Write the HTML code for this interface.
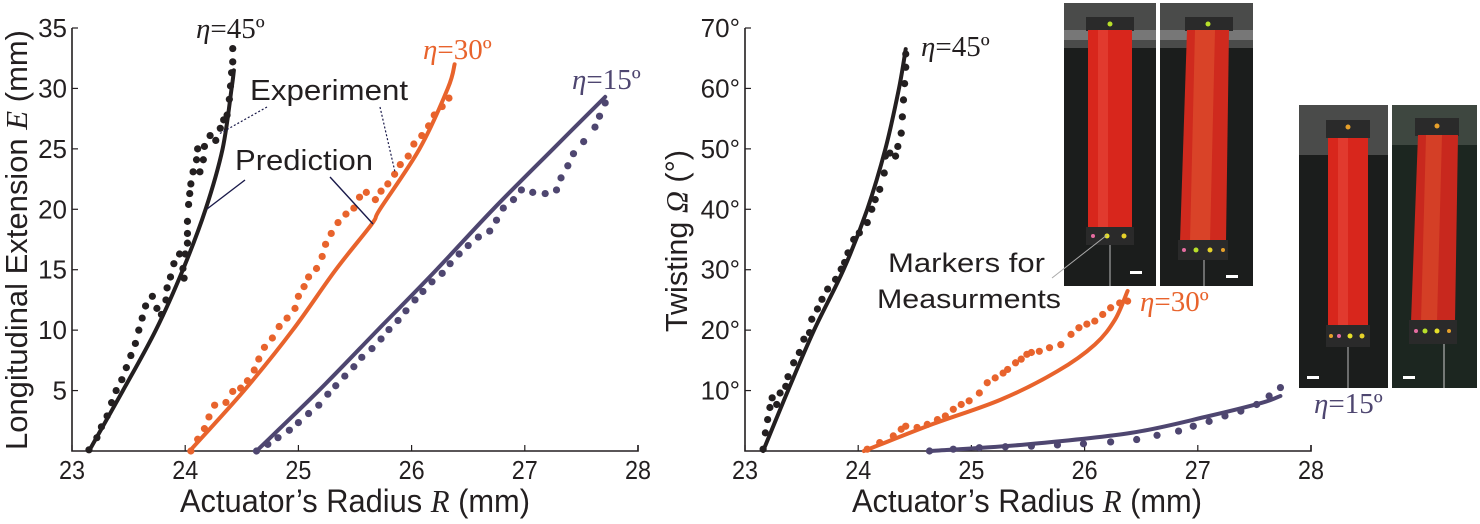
<!DOCTYPE html>
<html><head><meta charset="utf-8"><style>
html,body{margin:0;padding:0;background:#fff;}
svg{display:block;font-family:"Liberation Sans",sans-serif;}
.ser{font-family:"Liberation Serif",serif;}
</style></head><body>
<svg id="fig" width="1480" height="524" viewBox="0 0 1480 524" xmlns="http://www.w3.org/2000/svg">
<g id="photos">
  <g>
    <rect x="1064" y="3" width="92" height="283" fill="#1b1d1c"/>
    <rect x="1064" y="3" width="92" height="45" fill="#4a4b4a"/>
    <rect x="1064" y="30" width="92" height="10" fill="#777"/>
    <rect x="1086" y="17" width="48" height="14" fill="#2a2a2a"/>
    <circle cx="1110" cy="24" r="2.5" fill="#b8e02a"/>
    <rect x="1088" y="30" width="44" height="197" fill="#d8261c"/>
    <rect x="1098" y="30" width="10" height="197" fill="#e8473a" opacity="0.6"/>
    <rect x="1086" y="227" width="48" height="18" fill="#2a2a2a"/>
    <circle cx="1093" cy="236" r="2" fill="#e56ca0"/><circle cx="1107" cy="236" r="2.5" fill="#e6e02a"/><circle cx="1124" cy="236" r="2.5" fill="#e6d22a"/>
    <line x1="1110" y1="245" x2="1110" y2="286" stroke="#bbb" stroke-width="1"/>
    <rect x="1130" y="271" width="12" height="3" fill="#fff"/>
  </g>
  <g>
    <rect x="1160" y="3" width="93" height="283" fill="#1b1d1c"/>
    <rect x="1160" y="3" width="93" height="45" fill="#4a4b4a"/>
    <rect x="1160" y="30" width="93" height="10" fill="#777"/>
    <rect x="1185" y="17" width="48" height="14" fill="#2a2a2a"/>
    <circle cx="1208" cy="24" r="2.5" fill="#b8e02a"/>
    <polygon points="1187,30 1229,30 1226,242 1180,242" fill="#cf2a1e"/>
    <polygon points="1195,30 1215,30 1210,242 1190,242" fill="#e0552e" opacity="0.6"/>
    <rect x="1178" y="240" width="50" height="20" fill="#2a2a2a"/>
    <circle cx="1184" cy="250" r="2" fill="#e56ca0"/><circle cx="1196" cy="250" r="2.5" fill="#b8e02a"/><circle cx="1210" cy="250" r="2.5" fill="#e6d22a"/><circle cx="1223" cy="250" r="2" fill="#e6a02a"/>
    <line x1="1204" y1="260" x2="1204" y2="286" stroke="#bbb" stroke-width="1"/>
    <rect x="1226" y="275" width="12" height="3" fill="#fff"/>
  </g>
  <g>
    <rect x="1299" y="105" width="89" height="283" fill="#1b1d1c"/>
    <rect x="1299" y="105" width="89" height="50" fill="#4a4b4a"/>
    <rect x="1326" y="120" width="44" height="18" fill="#2a2a2a"/>
    <circle cx="1348" cy="127" r="2.5" fill="#e6a02a"/>
    <rect x="1328" y="138" width="40" height="187" fill="#d8261c"/>
    <rect x="1338" y="138" width="10" height="187" fill="#e8473a" opacity="0.6"/>
    <rect x="1326" y="325" width="44" height="22" fill="#2a2a2a"/>
    <circle cx="1331" cy="336" r="2" fill="#e6a02a"/><circle cx="1339" cy="336" r="2" fill="#e56ca0"/><circle cx="1350" cy="336" r="2.5" fill="#e6e02a"/><circle cx="1362" cy="336" r="2.5" fill="#e6d22a"/>
    <line x1="1348" y1="347" x2="1348" y2="388" stroke="#bbb" stroke-width="1"/>
    <rect x="1307" y="376" width="12" height="3" fill="#fff"/>
  </g>
  <g>
    <rect x="1392" y="105" width="85" height="283" fill="#1c2620"/>
    <rect x="1392" y="105" width="85" height="40" fill="#3e4740"/>
    <rect x="1415" y="118" width="44" height="18" fill="#2a2a2a"/>
    <circle cx="1437" cy="126" r="2.5" fill="#e6a02a"/>
    <polygon points="1418,135 1458,135 1455,322 1411,322" fill="#c8281e"/>
    <polygon points="1426,135 1442,135 1437,322 1421,322" fill="#e0552e" opacity="0.5"/>
    <rect x="1409" y="320" width="48" height="24" fill="#2a2a2a"/>
    <circle cx="1416" cy="331" r="2" fill="#e56ca0"/><circle cx="1425" cy="331" r="2.5" fill="#b8e02a"/><circle cx="1437" cy="331" r="2.5" fill="#e6e02a"/><circle cx="1449" cy="331" r="2" fill="#e6a02a"/>
    <line x1="1444" y1="344" x2="1444" y2="388" stroke="#ccc" stroke-width="1"/>
    <rect x="1403" y="376" width="12" height="3" fill="#fff"/>
  </g>
</g>
<g id="left"></g>
<g id="right"></g>

<g>
  <text class="ser" x="196" y="38" font-size="29" fill="#231f20"><tspan font-style="italic">η</tspan>=45º</text>
  <text class="ser" x="423" y="59" font-size="29" fill="#e8632c"><tspan font-style="italic">η</tspan>=30º</text>
  <text class="ser" x="572" y="89" font-size="29" fill="#4e4670"><tspan font-style="italic">η</tspan>=15º</text>
  <text x="250" y="100" font-size="29" fill="#231f20" textLength="158" lengthAdjust="spacingAndGlyphs">Experiment</text>
  <text x="235" y="170" font-size="29" fill="#231f20" textLength="138" lengthAdjust="spacingAndGlyphs">Prediction</text>
  <line x1="267" y1="107" x2="219" y2="134" stroke="#1a1a4a" stroke-width="1.2" stroke-dasharray="2,2"/>
  <line x1="380" y1="107" x2="395" y2="172" stroke="#1a1a4a" stroke-width="1.2" stroke-dasharray="2,2"/>
  <line x1="245" y1="180" x2="207" y2="209" stroke="#1a1a4a" stroke-width="1.4"/>
  <line x1="330" y1="177" x2="373" y2="224" stroke="#1a1a4a" stroke-width="1.4"/>
</g>
<g>
  <text class="ser" x="921" y="56" font-size="29" fill="#231f20"><tspan font-style="italic">η</tspan>=45º</text>
  <text class="ser" x="1140" y="311" font-size="29" fill="#e8632c"><tspan font-style="italic">η</tspan>=30º</text>
  <text class="ser" x="1314" y="413" font-size="29" fill="#4e4670"><tspan font-style="italic">η</tspan>=15º</text>
  <text x="888" y="272" font-size="27" fill="#231f20" textLength="157" lengthAdjust="spacingAndGlyphs">Markers for</text>
  <text x="877" y="308" font-size="27" fill="#231f20" textLength="184" lengthAdjust="spacingAndGlyphs">Measurments</text>
  <line x1="1052" y1="278" x2="1107" y2="235" stroke="#aaa" stroke-width="1"/>
</g>
</svg>
<script>
// ---------- Left chart data (R mm, E mm) ----------
const xTicksL = [23,24,25,26,27,28];
const yTicksL = [5,10,15,20,25,30,35];
const pred45E = [0,5,10,15,20,25,30,31.5];
const pred45R = [23.15,23.45,23.74,23.98,24.18,24.33,24.41,24.43];
const pred30E = [0,5,10,15,18.8,20,25,30,32];
const pred30R = [24.04,24.52,24.95,25.33,25.65,25.72,26.07,26.32,26.38];
const pred15E = [0,5,10,15,20,25,29.3];
const pred15R = [24.63,25.18,25.70,26.22,26.72,27.25,27.71];
const exp45R = [23.15,23.22,23.26,23.31,23.35,23.39,23.44,23.48,23.52,23.56,23.59,23.62,23.65,23.71,23.75,23.79,23.83,23.84,23.87,23.90,23.95,23.98,23.99,24.00,24.02,24.02,24.02,24.03,24.04,24.05,24.07,24.10,24.11,24.13,24.16,24.17,24.22,24.27,24.31,24.34,24.37,24.39,24.40,24.41,24.42,24.42];
const exp45E = [0.1,1.1,2.0,2.9,4.0,5.0,5.9,6.9,7.9,8.9,10.0,11.0,12.0,12.8,11.8,11.3,12.5,13.5,14.4,15.5,16.3,15.1,14.3,16.3,17.2,18.0,19.0,20.4,21.3,22.1,23.1,24.1,25.0,23.1,24.1,25.2,26.1,25.7,26.7,27.4,27.8,29.1,30.2,31.3,32.2,33.3];
const exp30R = [24.05,24.11,24.17,24.21,24.26,24.36,24.42,24.49,24.55,24.61,24.65,24.70,24.77,24.83,24.90,24.97,25.00,25.05,25.09,25.16,25.21,25.24,25.29,25.35,25.42,25.49,25.54,25.60,25.68,25.73,25.79,25.85,25.90,25.97,26.02,26.09,26.15,26.20,26.27,26.33];
const exp30E = [0,0.97,1.85,2.82,3.79,4.02,4.93,5.20,5.81,6.70,7.61,8.58,9.35,10.3,11.0,11.8,12.8,13.6,14.4,15.1,16.1,17.1,18.0,18.9,19.6,20.1,21.0,21.4,20.8,21.5,22.1,22.9,23.7,24.4,25.4,26.1,26.9,27.8,28.5,29.2];
const exp15R = [24.63,24.73,24.82,24.92,25.00,25.09,25.18,25.26,25.33,25.41,25.49,25.56,25.65,25.73,25.80,25.88,25.95,26.03,26.10,26.18,26.27,26.34,26.42,26.50,26.59,26.69,26.75,26.81,26.90,26.97,27.07,27.18,27.28,27.32,27.38,27.43,27.52,27.62,27.66,27.71];
const exp15E = [0,0.55,1.1,1.72,2.35,3.1,3.79,4.7,5.4,6.2,6.97,7.75,8.47,9.27,10.05,10.8,11.6,12.5,13.2,14.0,14.7,15.5,16.3,17.0,17.7,18.2,19.1,20.1,20.8,21.6,21.4,21.3,21.6,22.6,23.6,24.6,25.6,26.8,27.7,28.8];
// ---------- Right chart data (R mm, Omega deg) ----------
const xTicksR = [23,24,25,26,27,28];
const yTicksR = [10,20,30,40,50,60,70];
const tpred45R = [23.16,23.38,23.61,23.87,24.08,24.24,24.36,24.42];
const tpred45W = [0,10,20,30,40,50,60,66.5];
const tpred30R = [24.05,24.65,25.26,25.76,26.09,26.27,26.38];
const tpred30W = [0,4.4,8.5,13.2,17.6,21.8,26.5];
const tpred15R = [24.63,25.49,26.41,27.10,27.57,27.73];
const tpred15W = [0,1.1,3.0,5.8,8.0,9.1];
const texp45R = [23.16,23.18,23.20,23.22,23.24,23.28,23.31,23.36,23.38,23.43,23.48,23.52,23.57,23.59,23.64,23.68,23.73,23.80,23.85,23.88,23.91,23.96,24.01,24.08,24.12,24.15,24.19,24.23,24.24,24.28,24.33,24.35,24.38,24.39,24.40,24.41,24.42,24.42];
const texp45W = [0.3,3.0,5.2,7.2,8.8,7.7,9.6,10.7,12.3,14.6,16.3,18.5,19.6,21.8,23.5,25.1,26.8,28.4,30.1,31.2,32.8,35.0,36.1,37.8,40.0,41.6,43.3,46.0,48.8,49.3,48.8,50.4,52.6,55.3,58.1,60.8,63.5,65.7];
const texp30R = [24.08,24.19,24.31,24.38,24.42,24.52,24.61,24.70,24.77,24.84,24.91,24.98,25.07,25.14,25.21,25.28,25.32,25.39,25.44,25.49,25.53,25.60,25.69,25.79,25.88,25.95,26.02,26.09,26.16,26.23,26.31,26.38];
const texp30W = [0.3,1.4,2.5,3.6,4.1,3.9,4.4,5.2,5.8,6.9,7.7,8.3,9.6,11.3,12.1,12.9,13.5,14.6,15.2,16.0,16.3,16.5,17.1,17.6,19.3,20.4,21.0,21.5,22.6,23.7,24.5,24.8];
const texp15R = [24.63,24.84,25.07,25.30,25.53,25.76,25.99,26.23,26.46,26.64,26.83,26.96,27.10,27.24,27.38,27.52,27.63,27.73];
const texp15W = [0,0.3,0.55,0.7,0.8,1.0,1.2,1.5,1.9,2.6,3.3,4.1,4.9,5.8,6.6,7.7,9.1,10.5];

const NS = "http://www.w3.org/2000/svg";
const BLACK="#231f20", ORANGE="#e8632c", PURPLE="#4e4670";
function mk(tag, attrs, parent){const e=document.createElementNS(NS,tag);for(const k in attrs)e.setAttribute(k,attrs[k]);parent.appendChild(e);return e;}
function smoothPath(p){
  let d=`M${p[0][0].toFixed(1)},${p[0][1].toFixed(1)}`;
  for(let i=0;i<p.length-1;i++){
    const p0=p[Math.max(0,i-1)],p1=p[i],p2=p[i+1],p3=p[Math.min(p.length-1,i+2)];
    const c1=[p1[0]+(p2[0]-p0[0])/6,p1[1]+(p2[1]-p0[1])/6];
    const c2=[p2[0]-(p3[0]-p1[0])/6,p2[1]-(p3[1]-p1[1])/6];
    d+=` C${c1[0].toFixed(1)},${c1[1].toFixed(1)} ${c2[0].toFixed(1)},${c2[1].toFixed(1)} ${p2[0].toFixed(1)},${p2[1].toFixed(1)}`;
  }
  return d;
}

function drawChart(g, o){
  const xs = v => o.x0 + (v - o.xmin) * (o.x1 - o.x0) / (o.xmax - o.xmin);
  const ys = v => o.y0 - v * (o.y0 - o.y1) / o.ymax;
  const ax = mk("path",{d:`M${o.x0},${o.y1} L${o.x0},${o.y0} L${o.x1},${o.y0} L${o.x1},${o.y0-6}`,stroke:"#231f20","stroke-width":1.6,fill:"none"},g);
  
  
  o.xt.forEach(t=>{
    const tk=mk("line",{x1:xs(t),x2:xs(t),y1:o.y0,y2:o.y0-6,stroke:"#231f20","stroke-width":1.2},g);
    
    
    const tl=mk("text",{x:xs(t),y:o.y0+28,"font-size":26,"text-anchor":"middle",fill:"#231f20",textLength:26,lengthAdjust:"spacingAndGlyphs"},g);
    tl.textContent=t;
    
    
  });
  o.yt.forEach(t=>{
    const tk=mk("line",{x1:o.x0,x2:o.x0+6,y1:ys(t),y2:ys(t),stroke:"#231f20","stroke-width":1.2},g);
    
    
    const tl=mk("text",{x:o.x0-5,y:ys(t)+9,"font-size":26,"text-anchor":"end",fill:"#231f20"},g);
    tl.textContent=t+o.ysuf;
    
    
  });
  o.series.forEach(s=>{
    const pts=s.pr.map((r,i)=>[xs(r),ys(s.pv[i])]);
    const pl=mk("path",{d:smoothPath(pts),fill:"none",stroke:s.c,"stroke-width":4,"stroke-linejoin":"round","stroke-linecap":"round"},g);
    
    
    s.er.forEach((r,i)=>{
      const c=mk("circle",{cx:xs(r),cy:ys(s.ev[i]),r:3.6,fill:s.c},g);
      
      
    });
  });
  const xt=mk("text",{x:o.xtx,y:512,"font-size":32,"text-anchor":"middle",fill:"#231f20",textLength:350,lengthAdjust:"spacingAndGlyphs"},g);
  xt.innerHTML='Actuator’s Radius <tspan font-family="Liberation Serif,serif" font-style="italic">R</tspan> (mm)';
  
  
  const yt=mk("text",{x:0,y:0,"font-size":o.ytSize,"text-anchor":"middle",fill:"#231f20",textLength:o.ytLen,lengthAdjust:"spacingAndGlyphs",transform:`translate(${o.ytx},${o.yty}) rotate(-90)`},g);
  yt.innerHTML=o.ytitle;
  
  
}

drawChart(document.getElementById('left'),{
  x0:72,x1:638,xmin:23,xmax:28,y0:451,y1:28,ymax:35,xt:xTicksL,yt:yTicksL,ysuf:"",xtx:355,
  ytitle:'Longitudinal Extension <tspan font-family="Liberation Serif,serif" font-style="italic">E</tspan> (mm)',ytx:27,yty:240,ytSize:31,ytLen:420,
  series:[
    {name:'eta-45',c:BLACK,pr:pred45R,pv:pred45E,er:exp45R,ev:exp45E},
    {name:'eta-30',c:ORANGE,pr:pred30R,pv:pred30E,er:exp30R,ev:exp30E},
    {name:'eta-15',c:PURPLE,pr:pred15R,pv:pred15E,er:exp15R,ev:exp15E}
  ]});
drawChart(document.getElementById('right'),{
  x0:745,x1:1311,xmin:23,xmax:28,y0:451,y1:28,ymax:70,xt:xTicksR,yt:yTicksR,ysuf:"°",xtx:1027,
  ytitle:'Twisting <tspan font-family="Liberation Serif,serif" font-style="italic">Ω</tspan> (°)',ytx:687,yty:241,ytSize:31,ytLen:182,
  series:[
    {name:'eta-45',c:BLACK,pr:tpred45R,pv:tpred45W,er:texp45R,ev:texp45W},
    {name:'eta-30',c:ORANGE,pr:tpred30R,pv:tpred30W,er:texp30R,ev:texp30W},
    {name:'eta-15',c:PURPLE,pr:tpred15R,pv:tpred15W,er:texp15R,ev:texp15W}
  ]});
</script>
</body></html>
